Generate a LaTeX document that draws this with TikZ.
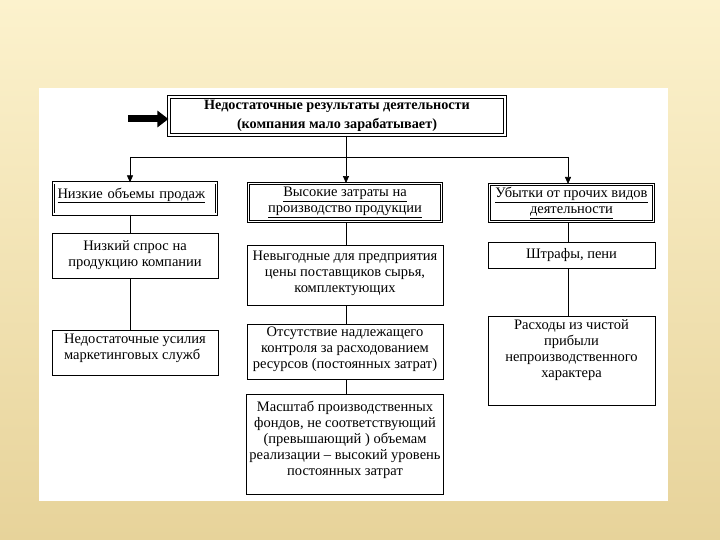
\documentclass[tikz,border=0pt]{standalone}
\usepackage{fontspec}
\setmainfont{Liberation Serif}
\usetikzlibrary{positioning,arrows.meta}
\definecolor{bgtop}{HTML}{FCF2CD}
\definecolor{bgbottom}{HTML}{E7D39A}
\definecolor{ink}{HTML}{000000}
\newcommand{\ulin}[1]{\underline{#1}}

\begin{document}
\begin{tikzpicture}[
  x=1pt, y=-1pt,
  font=\fontsize{14.5}{16}\selectfont,
  box/.style={draw=ink, line width=0.7pt, fill=white, align=center, inner sep=3pt},
  dblbox/.style={box, double, line width=0.9pt, double distance=1.5pt},
  leftbox/.style={box, minimum width=166pt},
  midbox/.style={box, minimum width=196pt},
  rightbox/.style={box, minimum width=167pt},
  flow/.style={-{Triangle[width=6pt,length=7pt]}, line width=0.7pt},
  link/.style={line width=0.7pt},
  bigarrow/.style={-{Triangle[width=16pt,length=11pt]}, line width=7pt},
]
\useasboundingbox (0,0) rectangle (720,540);
\shade[top color=bgtop, bottom color=bgbottom] (0,0) rectangle (720,540);
\fill[white] (39,88) rectangle (668,501);

\node[dblbox, line width=1.1pt, double distance=2pt, minimum width=336pt, minimum height=38pt,
      font=\bfseries\fontsize{14.2}{19}\selectfont] (top) at (337,116)
  {Недостаточные результаты деятельности\\(компания мало зарабатывает)};

\node[dblbox, minimum width=163pt, minimum height=30pt, align=left,
      text width=155pt, inner xsep=2pt, inner ysep=5pt, text depth=11pt] (l1) at (135,198.5)
  {\ulin{Низкие объемы продаж}};
\node[dblbox, minimum width=193pt, minimum height=38pt] (m1) at (345,202.5)
  {\ulin{Высокие затраты на}\\\ulin{производство продукции}};
\node[dblbox, minimum width=164pt, minimum height=37pt] (r1) at (571.5,203)
  {\ulin{Убытки от прочих видов}\\\ulin{деятельности}};

\node[leftbox, minimum height=45pt, below=18pt of l1] (l2) {Низкий спрос на\\продукцию компании};
\node[leftbox, minimum height=45pt, below=52pt of l2, align=left, text depth=12pt] (l3)
  {Недостаточные усилия\\маркетинговых служб};

\node[midbox, minimum height=60pt, below=23pt of m1, text depth=8pt] (m2)
  {Невыгодные для предприятия\\цены поставщиков сырья,\\комплектующих};
\node[midbox, minimum height=55pt, below=18pt of m2, text depth=7pt] (m3)
  {Отсутствие надлежащего\\контроля за расходованием\\ресурсов (постоянных затрат)};
\node[midbox, minimum height=100pt, below=15pt of m3, text depth=12pt] (m4)
  {Масштаб производственных\\фондов, не соответствующий\\(превышающий ) объемам\\реализации – высокий уровень\\постоянных затрат};

\node[rightbox, minimum height=26pt, below=20pt of r1] (r2) {Штрафы, пени};
\node[rightbox, minimum height=89pt, below=47pt of r2, text depth=25pt] (r3)
  {Расходы из чистой\\прибыли\\непроизводственного\\характера};

\coordinate (lx) at (130,157);
\coordinate (mx) at (346,157);
\coordinate (rx) at (568,157);
\coordinate (arrtail) at (128,119);

\draw[link] (top.south -| mx) -- (mx);
\draw[link] (lx) -- (rx);
\foreach \c/\n in {lx/l1, mx/m1, rx/r1}
  \draw[flow] (\c) -- (\n.north -| \c);
\foreach \c/\a/\b in {lx/l1/l2, lx/l2/l3, mx/m1/m2, mx/m2/m3, mx/m3/m4, rx/r1/r2, rx/r2/r3}
  \draw[link] (\a.south -| \c) -- (\b.north -| \c);
\draw[bigarrow] (arrtail) -- (top.west |- arrtail);
\end{tikzpicture}
\end{document}
